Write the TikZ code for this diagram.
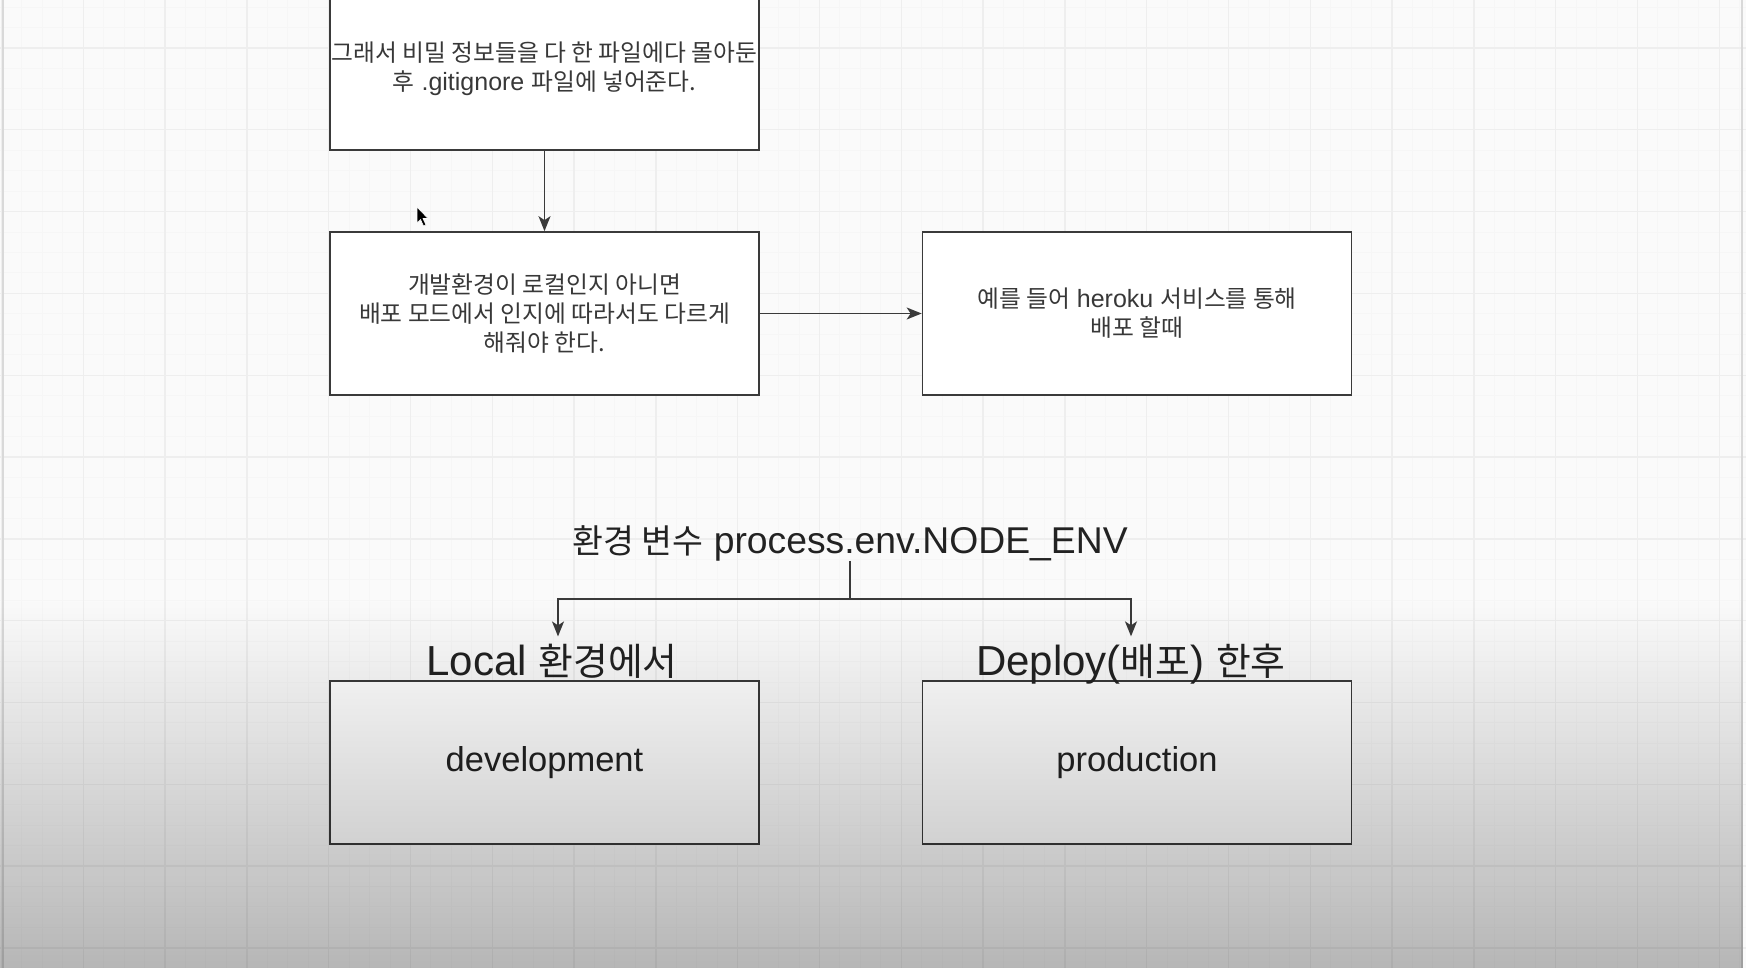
\documentclass[tikz,border=0pt]{standalone}
\usepackage{fontspec}
\setmainfont{Liberation Sans}
\newfontfamily\kr[Scale=0.9]{Noto Sans CJK KR}
\newfontfamily\krs[Scale=0.95]{Noto Sans CJK KR}
\usetikzlibrary{arrows.meta,fadings}
\tikzfading[name=fadedown, top color=transparent!100, bottom color=transparent!0]
\definecolor{boxline}{HTML}{3A3A3A}
\definecolor{txt}{HTML}{383838}
\definecolor{headtxt}{HTML}{222222}
\begin{document}
\begin{tikzpicture}[x=1pt,y=-1pt,
  minorgrid/.style={draw=black!3.5, line width=0.9pt},
  majorgrid/.style={draw=black!6.5, line width=1.4pt},
  box/.style={draw=boxline, line width=1.7pt, fill=white, minimum width=429pt,
    minimum height=163pt, inner sep=0pt, align=center, text=txt,
    font=\fontsize{25}{28.8}\selectfont},
  bigbox/.style={box, text=headtxt, font=\fontsize{34.5}{40}\selectfont},
  head/.style={anchor=base, inner xsep=0pt, inner ysep=7pt, text=headtxt,
    font=\fontsize{42}{48}\selectfont},
  lbl/.style={anchor=base, inner sep=0pt, text=headtxt, font=\fontsize{37.3}{42}\selectfont},
  conn/.style={draw=boxline, line width=1.7pt},
  arr/.style={conn, -{Stealth[length=15pt,width=12pt,inset=4pt]}}
]
\useasboundingbox (0,0) rectangle (1746,968);
\fill[white!98!black] (0,0) rectangle (1746,968);
% grid
\foreach \i in {0,...,85} {\draw[minorgrid] ({1.4+20.45*\i},0) -- ++(0,968);}
\foreach \j in {0,...,47} {\draw[minorgrid] (0,{7.1+20.45*\j}) -- ++(1746,0);}
\foreach \k in {0,...,21} {\draw[majorgrid] ({1.4+81.8*\k},0) -- ++(0,968);}
\foreach \k in {0,...,11} {\draw[majorgrid] (0,{48+81.8*\k}) -- ++(1746,0);}
\draw[black!15, line width=1.5pt] (3,0) -- (3,968);
\draw[black!15, line width=1.5pt] (1742,0) -- (1742,968);

% boxes
\node[box] (secret) at (544.5,68.5) {{\krs 그래서 비밀 정보들을 다 한 파일에다 몰아둔}\\{\krs 후} .gitignore {\krs 파일에 넣어준다.}};
\node[box] (mode) at (544.5,313.5) {{\krs 개발환경이 로컬인지 아니면}\\{\krs 배포 모드에서 인지에 따라서도 다르게}\\{\krs 해줘야 한다.}};
\node[box] (heroku) at (1137,313.5) {{\krs 예를 들어} heroku {\krs 서비스를 통해}\\{\krs 배포 할때}};
\node[bigbox] (dev) at (544.5,762.5) {development};
\node[bigbox] (prod) at (1137,762.5) {production};

% labels
\node[lbl] (env) at (850,553) {{\kr 환경 변수} process.env.NODE\_ENV};
\node[head] (local) at (552,675) {Local {\kr 환경에서}};
\node[head] (deploy) at (1131,675) {Deploy({\kr 배포}) {\kr 한후}};
\coordinate (split) at (850,599);

% connectors
\draw[arr] (secret.south) -- (mode.north);
\draw[arr] (mode.east) -- (heroku.west);
\draw[conn] (env.south) -- (split);
\draw[arr] (split) -| ([xshift=6pt]local.north);
\draw[arr] (split) -| (deploy.north);

% mouse pointer
\filldraw[fill=black, draw=white, line width=0.6pt] (417,207) -- (417,223) -- (420.5,219.5) -- (423.5,226) -- (426,225) -- (423,218.5) -- (428,218.5) -- cycle;

% screen darkening towards the bottom
\fill[black, opacity=0.27, path fading=fadedown] (0,600) rectangle (1746,968);
\end{tikzpicture}
\end{document}
